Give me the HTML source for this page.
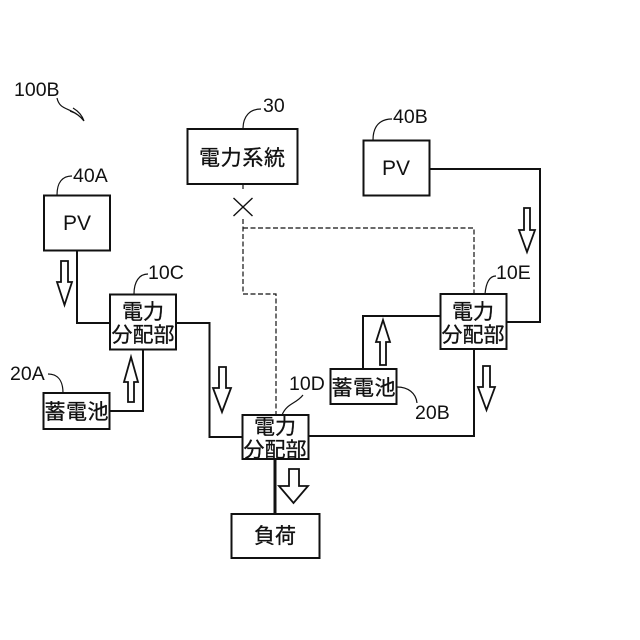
<!DOCTYPE html>
<html><head><meta charset="utf-8">
<style>
html,body{margin:0;padding:0;background:#fff}
svg{display:block}
.l{font-family:"Liberation Sans",sans-serif;font-size:19.5px;fill:#111}
.c{font-family:"Liberation Sans","Noto Sans CJK JP",sans-serif;font-size:21px;fill:#111;stroke:#111;stroke-width:.3;text-anchor:middle}
.b{fill:#fff;stroke:#111;stroke-width:2}
.w{fill:none;stroke:#111;stroke-width:2}
.t{fill:none;stroke:#111;stroke-width:1.2}
.d{fill:none;stroke:#111;stroke-width:1.2;stroke-dasharray:5 2.500}
.a{fill:#fff;stroke:#111;stroke-width:1.8;stroke-linejoin:miter}
</style></head>
<body>
<svg width="640" height="640" viewBox="0 0 640 640" xmlns="http://www.w3.org/2000/svg">
<!-- dashed -->
<path class="d" d="M243 184V191M243 219V294H276V415M243 228H474V294"/>
<path d="M233.500 198L252.500 216M252.500 198L233.500 216" fill="none" stroke="#111" stroke-width="1.400"/>
<!-- wires -->
<path class="w" d="M77 250V323H110"/>
<path class="w" d="M176 323H209.500V437H242"/>
<path class="w" d="M110 411H143V349"/>
<path class="w" d="M430 169H540V322H507"/>
<path class="w" d="M363 369V316H440"/>
<path class="w" d="M474 349V436H308"/>
<path d="M275 459V514" fill="none" stroke="#111" stroke-width="3"/>
<!-- boxes -->
<rect class="b" x="187.500" y="129" width="110" height="55"/>
<rect class="b" x="44" y="195.500" width="66" height="55"/>
<rect class="b" x="110" y="294.500" width="66" height="55"/>
<rect class="b" x="43.500" y="393" width="66" height="36"/>
<rect class="b" x="363.500" y="140.500" width="66" height="55"/>
<rect class="b" x="440.500" y="294" width="66" height="55"/>
<rect class="b" x="330.500" y="369" width="66" height="35"/>
<rect class="b" x="242.500" y="415" width="66" height="44"/>
<rect class="b" x="231.500" y="514" width="88" height="44"/>
<!-- arrows -->
<path class="a" d="M61 261H68V282H72L64.500 305L57 282H61Z"/>
<path class="a" d="M219 367H226V388H231L222 412L213 388H219Z"/>
<path class="a" d="M128 402H134V382H138L131 357L124 382H128Z"/>
<path class="a" d="M289 469H299V486H308L293.500 503L279 486H289Z"/>
<path class="a" d="M524 208H530V230H535L527 252L519 230H524Z"/>
<path class="a" d="M380 365H386V342H390L383 320L376 342H380Z"/>
<path class="a" d="M483 366H490V387H495L486.500 410L478 387H483Z"/>
<!-- leaders -->
<path class="t" d="M243 129C243 116 250 109 261 109"/>
<path class="t" d="M57 195C57 183 62 176 72 176"/>
<path class="t" d="M134 294C134 282 139 274 148 274"/>
<path class="t" d="M373 140C373 126 380 119 392 119"/>
<path class="t" d="M485 294C486 283 489 276 496 276"/>
<path class="t" d="M48 374C58 374 63 381 63 393"/>
<path class="t" d="M282 415C287 403 296 404 303 395"/>
<path class="t" d="M397 387C408 387 416 393 417 403"/>
<path class="t" d="M57 98C60 112 72 106 84 121M73 108C78 111 82 115 84 121M70 111C76 113 81 117 84 121"/>
<!-- labels -->
<text class="l" x="14" y="96">100B</text>
<text class="l" x="263" y="112">30</text>
<text class="l" x="73" y="182">40A</text>
<text class="l" x="148" y="279">10C</text>
<text class="l" x="393" y="123">40B</text>
<text class="l" x="496" y="279">10E</text>
<text class="l" x="10" y="380">20A</text>
<text class="l" x="289" y="390">10D</text>
<text class="l" x="415" y="419">20B</text>
<!-- node text -->
<text class="c" x="242" y="165" textLength="86">電力系統</text>
<text class="c" x="77" y="230" style="stroke-width:0">PV</text>
<text class="c" x="396" y="175" style="stroke-width:0">PV</text>
<text class="c" x="143" y="319" textLength="42">電力</text>
<text class="c" x="143" y="342" textLength="63">分配部</text>
<text class="c" x="473" y="319" textLength="42">電力</text>
<text class="c" x="473" y="342" textLength="63">分配部</text>
<text class="c" x="275" y="434" textLength="42">電力</text>
<text class="c" x="275" y="457" textLength="63">分配部</text>
<text class="c" x="76.500" y="419" textLength="64">蓄電池</text>
<text class="c" x="363.500" y="395" textLength="64">蓄電池</text>
<text class="c" x="275" y="543" textLength="42">負荷</text>
</svg>
</body></html>
